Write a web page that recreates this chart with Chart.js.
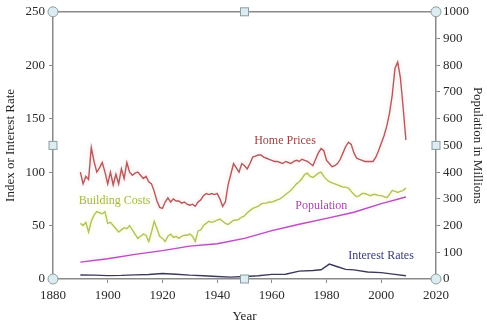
<!DOCTYPE html>
<html>
<head>
<meta charset="utf-8">
<script src="https://cdn.jsdelivr.net/npm/chart.js@4"></script>
<style>
  html, body { margin: 0; padding: 0; background: #fff; }
  #wrap { width: 487px; height: 327px; position: relative; }
</style>
</head>
<body>
<div id="wrap"><canvas id="dataChart"></canvas></div>
<script>
// yearly series 1890-2009
const years = Array.from({ length: 120 }, (_, i) => 1890 + i);

const homePrices = [
    100, 89, 96, 93, 123, 110, 100, 104, 109, 100,
    89, 100, 88, 98, 89, 103, 94, 109, 100, 97,
    99, 100, 97, 94, 96, 91, 89, 82, 73, 67,
    66, 72, 76, 72, 75, 73, 73, 71, 72, 70,
    69, 70, 68, 72, 74, 78, 80, 79, 80, 79,
    80, 75, 68, 72, 88, 98, 108, 104, 100, 108,
    106, 103, 108, 114, 115, 116, 116, 114, 113, 112,
    111, 110, 110, 109, 108, 110, 109, 108, 110, 111,
    110, 112, 111, 110, 108, 106, 112, 118, 122, 120,
    111, 108, 105, 106, 108, 112, 118, 124, 128, 126,
    118, 113, 112, 111, 110, 110, 110, 110, 114, 120,
    127, 134, 143, 155, 172, 197, 203, 188, 160, 130
];

const buildingCosts = [
    52, 50, 53, 44, 54, 60, 63, 62, 61, 63,
    52, 53, 50, 47, 44, 46, 48, 47, 50, 46,
    42, 38, 40, 42, 41, 35, 44, 54, 47, 40,
    38, 35, 40, 42, 39, 40, 38, 40, 41, 41,
    42, 40, 35, 45, 46, 50, 52, 54, 53, 54,
    55, 56, 54, 52, 51, 53, 55, 55, 56, 58,
    59, 62, 64, 66, 67, 68, 70, 71, 71, 72,
    72, 73, 74, 75, 77, 79, 81, 83, 86, 89,
    91, 94, 98, 99, 96, 95, 97, 99, 100, 96,
    93, 91, 90, 89, 88, 87, 86, 86, 85, 82,
    79, 77, 78, 80, 80, 79, 78, 79, 79, 78,
    78, 77, 76, 79, 83, 82, 81, 82, 83, 85
];

// population in millions (right axis)
const popYears = [1890, 1900, 1910, 1920, 1930, 1940, 1950, 1960, 1970, 1980, 1990, 2000, 2009];
const population = [63, 76, 92, 106, 123, 132, 152, 181, 205, 227, 250, 282, 307];

const rateYears = [1890, 1895, 1900, 1905, 1910, 1915, 1920, 1925, 1930, 1935, 1940, 1945, 1950,
    1955, 1960, 1965, 1970, 1975, 1978, 1981, 1984, 1987, 1990, 1995, 2000, 2005, 2009];
const interestRates = [3.8, 3.6, 3.2, 3.4, 3.9, 4.2, 5.2, 4.5, 3.6, 3.0, 2.3, 1.8, 2.4,
    3.0, 4.3, 4.5, 7.4, 7.9, 8.6, 13.9, 11.5, 9.0, 8.5, 6.6, 6.0, 4.3, 3.0];

const serif = "'Liberation Serif', 'DejaVu Serif', serif";
const axisGray = "#8a8a8a";

function pairs(xs, ys) {
    return xs.map((x, i) => ({ x: x, y: ys[i] }));
}

// series labels, placed in data coordinates
const labels = [
    { text: "Home Prices", x: 1964.8, y: 129.5, color: "#9e4244", glow: null },
    { text: "Building Costs", x: 1902.5, y: 72.8, color: "#a6b64e", glow: "#eef4a8" },
    { text: "Population", x: 1978.1, y: 68.4, color: "#a846ae", glow: null },
    { text: "Interest Rates", x: 1999.9, y: 21.4, color: "#3a3a7a", glow: null }
];

const glowPlugin = {
    id: "glow",
    beforeDatasetDraw(chart, args) {
        const ds = chart.data.datasets[args.index];
        chart.ctx.save();
        if (ds.glow) {
            chart.ctx.shadowColor = ds.glow;
            chart.ctx.shadowBlur = 5;
        }
    },
    afterDatasetDraw(chart) {
        chart.ctx.restore();
    }
};

const decorPlugin = {
    id: "decor",
    afterDraw(chart) {
        const ctx = chart.ctx;
        const a = chart.chartArea;
        const xs = chart.scales.x, ys = chart.scales.y;

        // top border
        ctx.save();
        ctx.strokeStyle = axisGray;
        ctx.lineWidth = 1.5;
        ctx.beginPath();
        ctx.moveTo(a.left, a.top);
        ctx.lineTo(a.right, a.top);
        ctx.stroke();

        // series labels
        ctx.font = "12px " + serif;
        ctx.textAlign = "center";
        ctx.textBaseline = "middle";
        labels.forEach(l => {
            const px = xs.getPixelForValue(l.x);
            const py = ys.getPixelForValue(l.y);
            ctx.save();
            if (l.glow) {
                ctx.shadowColor = l.glow;
                ctx.shadowBlur = 6;
            }
            ctx.fillStyle = l.color;
            ctx.fillText(l.text, px, py);
            ctx.restore();
        });

        // selection handles
        ctx.fillStyle = "#dcedf1";
        ctx.strokeStyle = "#8c9ca2";
        ctx.lineWidth = 1;
        const midX = (a.left + a.right) / 2, midY = (a.top + a.bottom) / 2;
        [[a.left, a.top], [a.right, a.top], [a.left, a.bottom], [a.right, a.bottom]].forEach(p => {
            ctx.beginPath();
            ctx.arc(p[0], p[1], 5, 0, Math.PI * 2);
            ctx.fill();
            ctx.stroke();
        });
        [[midX, a.top], [midX, a.bottom], [a.left, midY], [a.right, midY]].forEach(p => {
            ctx.fillRect(p[0] - 4, p[1] - 4, 8, 8);
            ctx.strokeRect(p[0] - 4, p[1] - 4, 8, 8);
        });
        ctx.restore();
    }
};

const tickFont = { family: serif, size: 13 };
const titleFont = { family: serif, size: 13 };

new Chart(document.getElementById("dataChart").getContext("2d"), {
    type: "line",
    data: {
        datasets: [{
            label: "Home Prices",
            data: pairs(years, homePrices),
            borderColor: "#b35a5c",
            glow: "#f2d0d0",
            yAxisID: "y"
        }, {
            label: "Building Costs",
            data: pairs(years, buildingCosts),
            borderColor: "#b2c25e",
            glow: "#eef4a0",
            yAxisID: "y"
        }, {
            label: "Population",
            data: pairs(popYears, population),
            borderColor: "#b650bc",
            glow: "#f2d0f2",
            yAxisID: "y2"
        }, {
            label: "Interest Rates",
            data: pairs(rateYears, interestRates),
            borderColor: "#3a3a5a",
            glow: null,
            yAxisID: "y"
        }]
    },
    options: {
        responsive: true,
        maintainAspectRatio: false,
        animation: false,
        layout: { padding: { top: 10, left: 0, right: 0, bottom: 0 } },
        elements: {
            point: { radius: 0 },
            line: { borderWidth: 1.4, tension: 0, fill: false }
        },
        plugins: {
            legend: { display: false },
            tooltip: { enabled: false }
        },
        scales: {
            x: {
                type: "linear",
                min: 1880,
                max: 2020,
                ticks: { stepSize: 20, color: "#2a2a2a", font: tickFont, padding: 5, callback: v => String(v) },
                grid: { drawOnChartArea: false, tickLength: 4, color: axisGray },
                border: { color: axisGray, width: 1.5 },
                title: { display: true, text: "Year", color: "#222", font: titleFont, padding: { top: 2, bottom: 3 } },
                afterFit: s => { s.height = 48; }
            },
            y: {
                position: "left",
                min: 0,
                max: 250,
                ticks: { stepSize: 50, color: "#2a2a2a", font: tickFont, padding: 4, callback: v => String(v) },
                grid: { drawOnChartArea: false, tickLength: 4, color: axisGray },
                border: { color: axisGray, width: 1.5 },
                title: { display: true, text: "Index or Interest Rate", color: "#222", font: titleFont, padding: { top: 3, bottom: 2 } },
                afterFit: s => { s.width = 53; }
            },
            y2: {
                position: "right",
                min: 0,
                max: 1000,
                ticks: { stepSize: 100, color: "#2a2a2a", font: tickFont, padding: 3, callback: v => String(v) },
                grid: { drawOnChartArea: false, tickLength: 4, color: axisGray },
                border: { color: axisGray, width: 1.5 },
                title: { display: true, text: "Population in Millions", color: "#222", font: titleFont, padding: { top: 2, bottom: 3 } },
                afterFit: s => { s.width = 51; }
            }
        }
    },
    plugins: [glowPlugin, decorPlugin]
});
</script>
</body>
</html>
